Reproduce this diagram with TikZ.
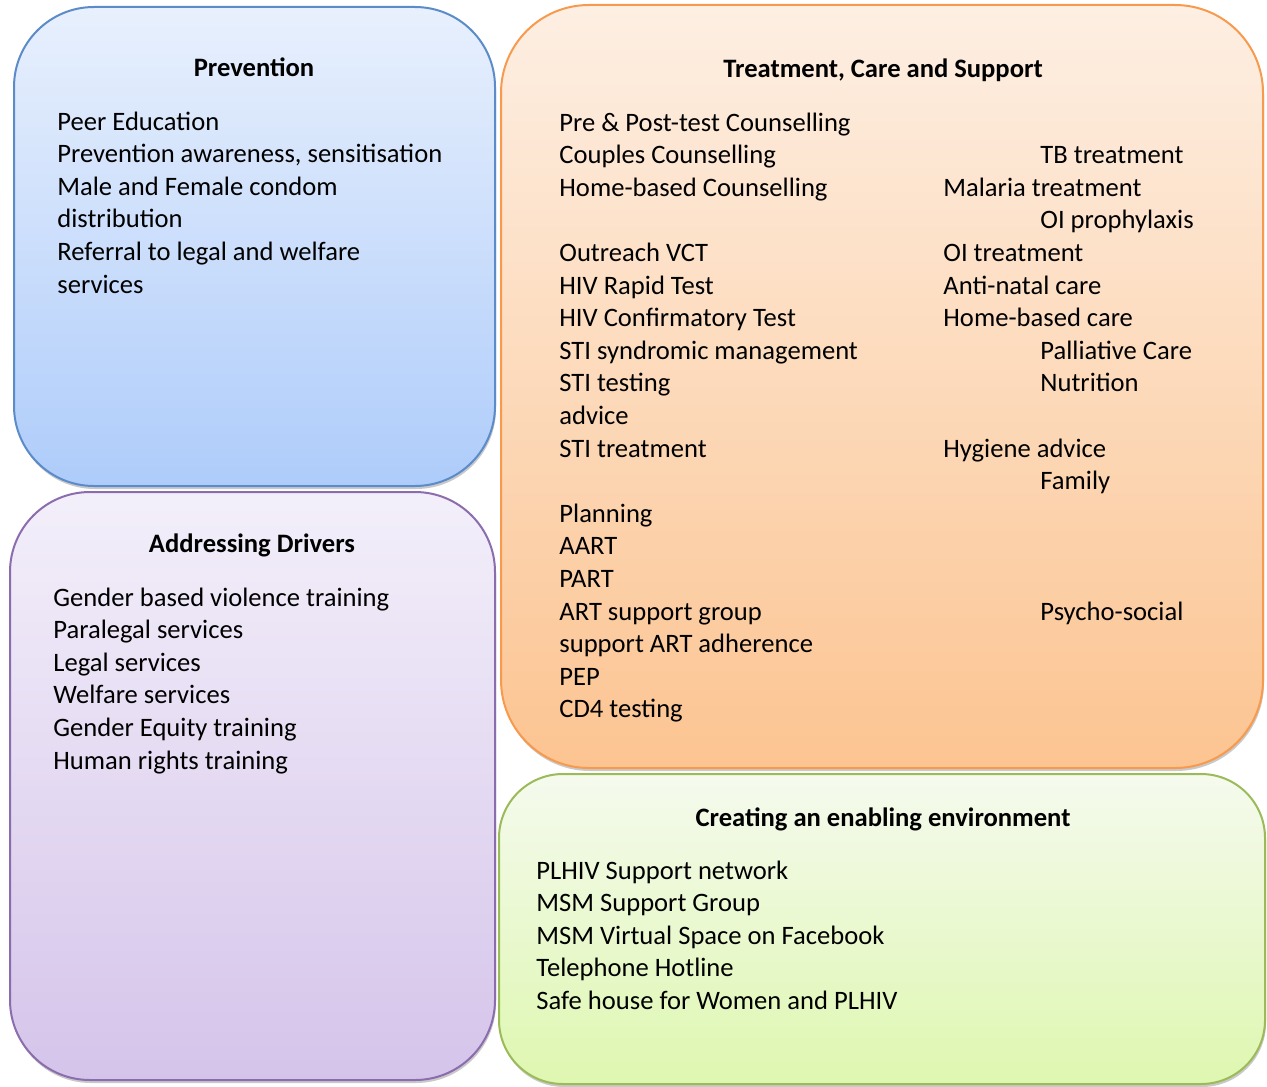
\documentclass[tikz,border=0pt]{standalone}
\usepackage{fontspec}
\setmainfont{Carlito}
\usetikzlibrary{shadows}

\definecolor{prevline}{HTML}{5B8BC9}
\definecolor{prevtop}{HTML}{E8F0FD}
\definecolor{prevbot}{HTML}{AECCFA}
\definecolor{drvline}{HTML}{8B6DAE}
\definecolor{drvtop}{HTML}{F3EFFA}
\definecolor{drvbot}{HTML}{D5C4EA}
\definecolor{treatline}{HTML}{F79A4E}
\definecolor{treattop}{HTML}{FDEFE3}
\definecolor{treatbot}{HTML}{FCC491}
\definecolor{envline}{HTML}{9BBB59}
\definecolor{envtop}{HTML}{F5FAEE}
\definecolor{envbot}{HTML}{DEF7B0}

\tikzset{
  panel/.style={line width=1pt, rounded corners=#1,
    drop shadow={shadow xshift=0.5pt, shadow yshift=-1.5pt, opacity=0.3, fill=black!70}},
  panel/.default=40pt,
  heading/.style={anchor=base, inner sep=0pt, font=\bfseries\fontsize{13.3}{16}\selectfont},
  entry/.style={anchor=base west, inner sep=0pt, font=\fontsize{13.3}{16}\selectfont}
}

\begin{document}
\begin{tikzpicture}[x=0.5pt,y=-0.5pt]
\useasboundingbox (0,0) rectangle (1267,1086);

% panels
\shadedraw[panel, draw=prevline, top color=prevtop, bottom color=prevbot] (14,7) rectangle (495,486);
\shadedraw[panel, draw=drvline, top color=drvtop, bottom color=drvbot] (10,492) rectangle (495,1080);
\shadedraw[panel=44pt, draw=treatline, top color=treattop, bottom color=treatbot] (501,5) rectangle (1263,768);
\shadedraw[panel=32pt, draw=envline, top color=envtop, bottom color=envbot] (499,774) rectangle (1265,1084);

% Prevention
\node[heading] (prevtitle) at (254,76) {Prevention};
\foreach \txt [count=\i] in {Peer Education, {Prevention awareness, sensitisation},
    Male and Female condom, distribution, Referral to legal and welfare, services}
  \node[entry] (prev\i) at (57,{130+32.6*(\i-1)}) {\txt};

% Addressing Drivers
\node[heading] (drvtitle) at (252,552) {Addressing Drivers};
\foreach \txt [count=\i] in {Gender based violence training, Paralegal services, Legal services,
    Welfare services, Gender Equity training, Human rights training}
  \node[entry] (drv\i) at (53,{606+32.6*(\i-1)}) {\txt};

% Treatment, Care and Support
\node[heading] (treattitle) at (883,78) {Treatment, Care and Support};
\foreach \r/\txt in {0/Pre \& Post-test Counselling, 1/Couples Counselling, 2/Home-based Counselling,
    4/Outreach VCT, 5/HIV Rapid Test, 6/HIV Confirmatory Test, 7/STI syndromic management,
    8/STI testing, 9/advice, 10/STI treatment, 12/Planning, 13/AART, 14/PART,
    15/ART support group, 16/support ART adherence, 17/PEP, 18/CD4 testing}
  \node[entry] (tl\r) at (559,{131+32.6*\r}) {\txt};
\foreach \r/\txt in {2/Malaria treatment, 4/OI treatment, 5/Anti-natal care,
    6/Home-based care, 10/Hygiene advice}
  \node[entry] (tm\r) at (943,{131+32.6*\r}) {\txt};
\foreach \r/\txt in {1/TB treatment, 3/OI prophylaxis, 7/Palliative Care, 8/Nutrition,
    11/Family, 15/Psycho-social}
  \node[entry] (tr\r) at (1040,{131+32.6*\r}) {\txt};

% Creating an enabling environment
\node[heading] (envtitle) at (883,826) {Creating an enabling environment};
\foreach \txt [count=\i] in {PLHIV Support network, MSM Support Group, MSM Virtual Space on Facebook,
    Telephone Hotline, Safe house for Women and PLHIV}
  \node[entry] (env\i) at (536,{879+32.6*(\i-1)}) {\txt};
\end{tikzpicture}
\end{document}
